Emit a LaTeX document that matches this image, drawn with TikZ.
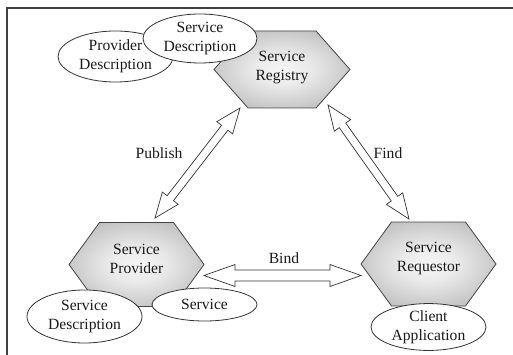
\documentclass[tikz,border=0pt]{standalone}
\usepackage{fontspec}
\setmainfont{Liberation Serif}
\usetikzlibrary{shapes.geometric,calc}
\definecolor{linec}{HTML}{333333}
\definecolor{hexedge}{HTML}{444444}
\definecolor{txt}{HTML}{1A1A1A}
\pgfdeclareradialshading{hexshade}{\pgfpoint{0bp}{0bp}}{color(0bp)=(black!4); color(10bp)=(black!8); color(30bp)=(black!26); color(50bp)=(black!36)}
\tikzset{
  hex/.style={draw=hexedge, line width=0.8pt, shading=hexshade},
  ell/.style={ellipse, draw=linec, line width=0.8pt, fill=white, inner sep=0pt, align=center, text=txt},
  lbl/.style={inner sep=0pt, align=center, text=txt},
  harrow/.style={draw=linec, line width=0.7pt, fill=white, line join=miter},
  frame/.style={draw=black!75, line width=1.1pt}
}
\newcommand\hexshape[5]{% cx cy halfw halfh halftop
  \path[hex] ({#1-#3},#2) -- ({#1-#5},{#2-#4}) -- ({#1+#5},{#2-#4}) -- ({#1+#3},#2) -- ({#1+#5},{#2+#4}) -- ({#1-#5},{#2+#4}) -- cycle;}
\newcommand\hollowarrow[5]{% from, to, headlen, headhalf, shafthalf
  \coordinate (h1) at ($(#1)!#3!(#2)$);
  \coordinate (h2) at ($(#2)!#3!(#1)$);
  \draw[harrow] (#1) -- ($(h1)!#4!90:(#2)$) -- ($(h1)!#5!90:(#2)$) -- ($(h2)!#5!-90:(#1)$) -- ($(h2)!#4!-90:(#1)$) -- (#2) -- ($(h2)!#4!90:(#1)$) -- ($(h2)!#5!90:(#1)$) -- ($(h1)!#5!-90:(#2)$) -- ($(h1)!#4!-90:(#2)$) -- cycle;}
\begin{document}
\begin{tikzpicture}[x=1pt, y=-1pt, font=\fontsize{15.6}{19}\selectfont]
\useasboundingbox[fill=white] (0,0) rectangle (513,355);
\draw[frame] (7,355) -- (7,8) -- (513,8);
% hexagons
\hexshape{282}{69.5}{68}{38.5}{34}
\hexshape{136.5}{264.5}{67.5}{42}{37}
\hexshape{428.5}{264}{67.5}{42}{37}
\node[lbl] (registry) at (282,67.5) {Service\\Registry};
\node[lbl] (provider) at (136.5,259) {Service\\Provider};
\node[lbl] (requestor) at (428.5,258.5) {Service\\Requestor};
% ellipses
\node[ell, minimum width=115pt, minimum height=51pt] (provdesc) at (115.5,56.5) {Provider\\Description};
\node[ell, minimum width=114pt, minimum height=49pt] (regdesc) at (200,38.5) {Service\\Description};
\node[ell, minimum width=115pt, minimum height=53pt] (srvdesc) at (84.5,316.5) {Service\\Description};
\node[ell, minimum width=105pt, minimum height=33pt] (service) at (204.5,304.5) {Service};
\node[ell, minimum width=115pt, minimum height=44pt] (client) at (428.5,327) {Client\\Application};
% arrows
\coordinate (pubA) at (155,218);
\coordinate (pubB) at (240,108);
\coordinate (findA) at (328,105);
\coordinate (findB) at (409,219);
\coordinate (bindA) at (204,275.5);
\coordinate (bindB) at (361,275.5);
\hollowarrow{pubA}{pubB}{25pt}{10pt}{4pt}
\hollowarrow{findA}{findB}{25pt}{10pt}{4pt}
\hollowarrow{bindA}{bindB}{31pt}{11pt}{5.5pt}
% labels
\node[lbl] (publish) at (159,153) {Publish};
\node[lbl] (find) at (388,153) {Find};
\node[lbl] (bind) at (284,258) {Bind};
\end{tikzpicture}
\end{document}
